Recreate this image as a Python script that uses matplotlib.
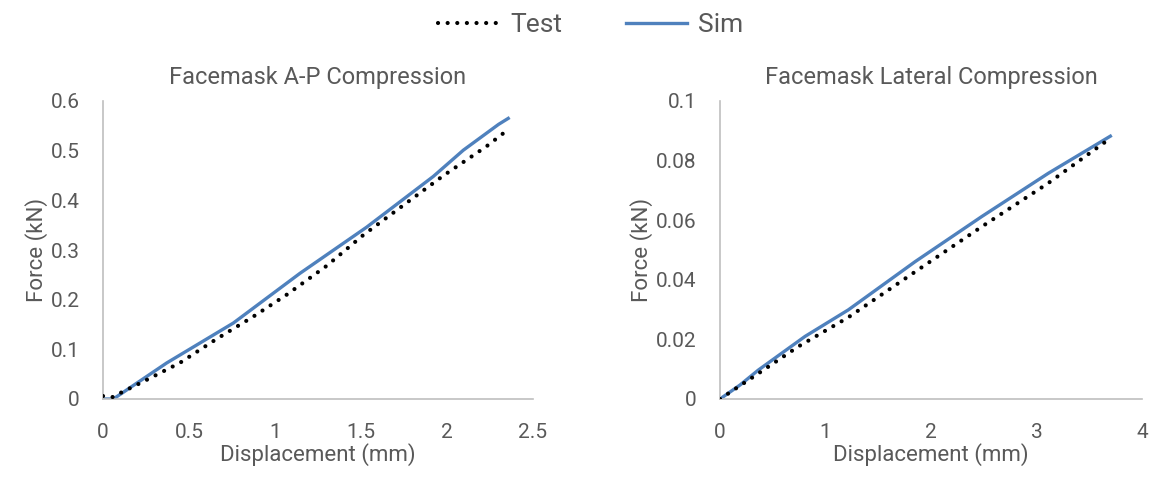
import matplotlib.pyplot as plt

# A-P compression (left)
ap_test_x = [0, 0.056, 0.10, 0.234, 0.448, 0.661, 0.874, 1.068, 1.30, 1.513, 1.746, 1.98, 2.227, 2.346]
ap_test_y = [0.006, 0.004, 0.012, 0.035, 0.073, 0.121, 0.166, 0.210, 0.268, 0.330, 0.390, 0.450, 0.508, 0.540]
ap_sim_x = [0, 0.06, 0.37, 0.758, 1.145, 1.533, 1.92, 2.095, 2.30, 2.356]
ap_sim_y = [0.0, 0.0, 0.0725, 0.153, 0.253, 0.346, 0.448, 0.501, 0.553, 0.565]

# lateral compression (right)
lat_test_x = [0, 0.306, 0.742, 1.216, 1.85, 2.48, 3.11, 3.70]
lat_test_y = [0, 0.0072, 0.0176, 0.0274, 0.0427, 0.0578, 0.0724, 0.0875]
lat_sim_x = [0, 0.19, 0.363, 0.806, 1.216, 1.85, 2.48, 3.11, 3.70]
lat_sim_y = [0, 0.0047, 0.0097, 0.021, 0.0299, 0.0461, 0.0612, 0.0757, 0.0882]

titles = ['Facemask A-P Compression', 'Facemask Lateral Compression']
xticks = [[0, 0.5, 1, 1.5, 2, 2.5], [0, 1, 2, 3, 4]]
yticks = [[0, 0.1, 0.2, 0.3, 0.4, 0.5, 0.6], [0, 0.02, 0.04, 0.06, 0.08, 0.1]]
xtick_labels = [['0', '0.5', '1', '1.5', '2', '2.5'], ['0', '1', '2', '3', '4']]
ytick_labels = [['0', '0.1', '0.2', '0.3', '0.4', '0.5', '0.6'],
                ['0', '0.02', '0.04', '0.06', '0.08', '0.1']]

plt.rcParams['font.family'] = ['Roboto', 'DejaVu Sans']
grey = '#595959'
blue = '#4F81BD'

fig = plt.figure(figsize=(11.56, 4.78), dpi=100)
W, H = 1156, 478
boxes = [(103, 533), (720, 1142)]
data = [(ap_test_x, ap_test_y, ap_sim_x, ap_sim_y),
        (lat_test_x, lat_test_y, lat_sim_x, lat_sim_y)]

for i, (x0, x1) in enumerate(boxes):
    ax = fig.add_axes([x0 / W, (H - 399) / H, (x1 - x0) / W, 298 / H])
    tx, ty, sx, sy = data[i]
    l1, = ax.plot(tx, ty, color='black', lw=3, linestyle=(0, (0.01, 2.3)),
                  dash_capstyle='round', label='Test', zorder=3)
    l2, = ax.plot(sx, sy, color=blue, lw=2.4, label='Sim', zorder=2)
    ax.set_xlim(xticks[i][0], xticks[i][-1])
    ax.set_ylim(yticks[i][0], yticks[i][-1])
    ax.set_xticks(xticks[i], xtick_labels[i])
    ax.set_yticks(yticks[i], ytick_labels[i])
    ax.tick_params(length=0, labelsize=15, colors=grey)
    ax.tick_params(axis='x', pad=17)
    ax.tick_params(axis='y', pad=17)
    for s in ['top', 'right']:
        ax.spines[s].set_visible(False)
    for s in ['left', 'bottom']:
        ax.spines[s].set_color('#bfbfbf')
        ax.spines[s].set_linewidth(1.2)
    ax.set_title(titles[i], fontsize=17, color=grey, pad=12)
    ax.set_xlabel('Displacement (mm)', fontsize=16, color=grey, labelpad=1)
    ax.set_ylabel('Force (kN)', fontsize=16, color=grey, labelpad=2)

fig.legend([l1, l2], ['Test', 'Sim'], loc='center', bbox_to_anchor=(0.511, 0.948),
           ncol=2, frameon=False, fontsize=19, labelcolor=grey,
           handlelength=2.3, handletextpad=0.45, columnspacing=2.4)

fig.savefig('out.png', dpi=100)
